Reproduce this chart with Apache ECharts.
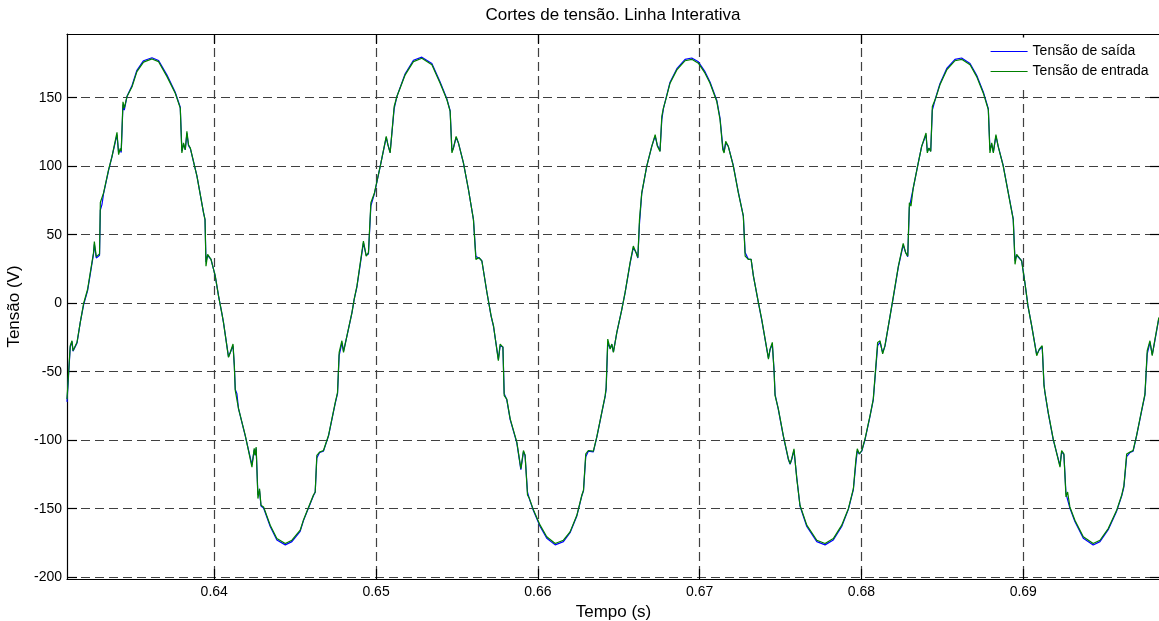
<!DOCTYPE html>
<html>
<head>
<meta charset="utf-8">
<title>Cortes de tensão. Linha Interativa</title>
<script src="https://cdn.jsdelivr.net/npm/echarts@6.0.0/dist/echarts.min.js"></script>
<style>
  html, body { margin: 0; padding: 0; background: #fff; }
  #chart { width: 1159px; height: 621px; }
</style>
</head>
<body>
<div id="chart"></div>
<script>
// tempo (s)
const tempo = [
  0.63090, 0.63110, 0.63121, 0.63127, 0.63152, 0.63172, 0.63193, 0.63217, 0.63254, 0.63259,
  0.63271, 0.63291, 0.63296, 0.63306, 0.63316, 0.63347, 0.63368, 0.63399, 0.63409, 0.63419,
  0.63425, 0.63436, 0.63444, 0.63461, 0.63492, 0.63522, 0.63563, 0.63615, 0.63656, 0.63708,
  0.63759, 0.63790, 0.63800, 0.63810, 0.63821, 0.63831, 0.63841, 0.63852, 0.63893, 0.63934,
  0.63943, 0.63949, 0.63959, 0.63980, 0.64006, 0.64027, 0.64048, 0.64057, 0.64088, 0.64099,
  0.64116, 0.64124, 0.64130, 0.64140, 0.64150, 0.64192, 0.64233, 0.64247, 0.64253, 0.64259,
  0.64270, 0.64280, 0.64289, 0.64305, 0.64346, 0.64387, 0.64439, 0.64480, 0.64531, 0.64552,
  0.64613, 0.64624, 0.64634, 0.64651, 0.64675, 0.64706, 0.64748, 0.64762, 0.64772, 0.64789,
  0.64799, 0.64820, 0.64851, 0.64865, 0.64882, 0.64922, 0.64939, 0.64953, 0.64968, 0.64990,
  0.65026, 0.65063, 0.65073, 0.65087, 0.65112, 0.65129, 0.65180, 0.65231, 0.65283, 0.65345,
  0.65396, 0.65438, 0.65458, 0.65469, 0.65478, 0.65495, 0.65509, 0.65540, 0.65571, 0.65602,
  0.65617, 0.65637, 0.65654, 0.65685, 0.65711, 0.65726, 0.65756, 0.65767, 0.65784, 0.65792,
  0.65808, 0.65829, 0.65870, 0.65895, 0.65911, 0.65921, 0.65936, 0.65948, 0.65973, 0.66014,
  0.66055, 0.66107, 0.66158, 0.66199, 0.66241, 0.66272, 0.66282, 0.66296, 0.66312, 0.66343,
  0.66364, 0.66395, 0.66416, 0.66422, 0.66432, 0.66447, 0.66457, 0.66467, 0.66488, 0.66518,
  0.66539, 0.66570, 0.66590, 0.66607, 0.66618, 0.66628, 0.66642, 0.66673, 0.66704, 0.66725,
  0.66739, 0.66749, 0.66755, 0.66766, 0.66776, 0.66793, 0.66817, 0.66859, 0.66910, 0.66951,
  0.66992, 0.67033, 0.67064, 0.67106, 0.67126, 0.67143, 0.67151, 0.67161, 0.67177, 0.67208,
  0.67239, 0.67270, 0.67281, 0.67301, 0.67318, 0.67332, 0.67363, 0.67384, 0.67415, 0.67425,
  0.67435, 0.67449, 0.67460, 0.67466, 0.67486, 0.67517, 0.67548, 0.67559, 0.67569, 0.67583,
  0.67600, 0.67620, 0.67662, 0.67724, 0.67775, 0.67826, 0.67878, 0.67919, 0.67950, 0.67966,
  0.67974, 0.67987, 0.68002, 0.68022, 0.68053, 0.68073, 0.68100, 0.68115, 0.68131, 0.68145,
  0.68176, 0.68197, 0.68228, 0.68258, 0.68273, 0.68286, 0.68296, 0.68306, 0.68320, 0.68351,
  0.68372, 0.68399, 0.68407, 0.68417, 0.68428, 0.68438, 0.68444, 0.68461, 0.68485, 0.68527,
  0.68578, 0.68619, 0.68671, 0.68712, 0.68753, 0.68784, 0.68794, 0.68805, 0.68815, 0.68831,
  0.68845, 0.68876, 0.68907, 0.68938, 0.68949, 0.68959, 0.68990, 0.69010, 0.69029, 0.69052,
  0.69083, 0.69099, 0.69117, 0.69128, 0.69134, 0.69154, 0.69185, 0.69227, 0.69237, 0.69251,
  0.69264, 0.69274, 0.69288, 0.69319, 0.69371, 0.69432, 0.69474, 0.69525, 0.69577, 0.69608,
  0.69622, 0.69639, 0.69659, 0.69679, 0.69700, 0.69731, 0.69752, 0.69766, 0.69783, 0.69797,
  0.69814, 0.69838
];

// Tensão de saída (V) - azul
const tensaoSaida = [
  -72, -32, -28, -35, -29, -14, -1, 9, 36, 43,
  33, 35, 68, 72, 80, 97, 107, 123, 110, 112,
  110, 145, 141, 151, 159, 170, 177, 179.2, 177.2, 166.5,
  154, 143, 111, 116, 112, 124, 115, 113, 93, 66,
  61, 30, 35, 32, 20, 5, -8, -14, -39, -36,
  -31, -45, -63, -66, -77, -97, -118, -107, -111, -106,
  -140, -137, -148, -149.5, -163, -172.8, -176.4, -174, -166.5, -158.5,
  -140.5, -138, -113, -109, -108, -97, -73, -66, -38, -29,
  -35, -24, -7, 3, 12, 44, 35, 36, 71, 80,
  100, 121, 116, 110, 142, 151, 167.5, 177.3, 179.6, 175,
  161.5, 149, 140.5, 111, 113, 121, 117, 102.5, 83, 61,
  34, 33, 31, 8, -9.5, -17, -41, -31, -32, -66,
  -70.5, -85, -102, -121.5, -108.5, -111, -138, -143, -151.5, -163,
  -171.5, -176.4, -174, -167.5, -155.3, -140.5, -137, -112, -108, -108.5,
  -98, -80, -68, -63, -29, -33, -30, -35.5, -21.5, -5,
  7.5, 29, 40.5, 37, 33, 58, 80, 100, 114.5, 122,
  115, 113, 111, 134, 142, 150, 161.3, 171.2, 178, 179,
  176.2, 169, 161.5, 148, 135, 114, 110.5, 117, 114.5, 100.5,
  81, 63.5, 37, 32, 32, 20, 0.5, -12.5, -33.5, -40,
  -34, -30, -49, -66.5, -77.5, -97, -114, -117.5, -114, -107.5,
  -127, -148, -163, -174, -176.4, -172.8, -163, -150.5, -136, -116,
  -108, -110, -108, -99.5, -82.5, -70.5, -31, -28.5, -36, -31.5,
  -10, 4.5, 26.5, 42.5, 37, 34, 70, 70.5, 84, 102.5,
  114.5, 123, 111, 113, 111, 141, 142, 151, 160.2, 171.3,
  178, 179, 175, 166.4, 154.2, 142, 112, 116, 110.5, 122,
  114.5, 100.5, 81, 61.5, 31, 35, 31, 15, -2, -16.5,
  -37.5, -34, -32, -59, -65.5, -80, -99.5, -118.5, -108.5, -110.5,
  -139, -139, -149.5, -159.3, -171.5, -176.5, -174, -165.3, -151.8, -140.8,
  -134, -112, -109, -108, -97, -79, -67, -37, -28.5, -37.5,
  -27, -11
];

// Tensão de entrada (V) - verde
const tensaoEntrada = [
  -70, -31, -27.4, -34.7, -28.5, -14, 0, 10, 37, 45,
  34, 36, 73.5, 74.5, 80.5, 97.5, 107, 124.7, 108.4, 113,
  111, 147, 142.4, 150.9, 158, 169, 176, 178.3, 176.3, 165.4,
  153.3, 142.4, 109.7, 117, 112, 125.4, 115.7, 113.3, 92.7, 66,
  61, 27, 35.7, 32, 20, 5, -8, -14, -39.5, -36,
  -29.8, -45.6, -63.8, -65, -77, -96.6, -119.6, -106, -111, -105,
  -142.6, -135.4, -147.5, -148.7, -162, -171.8, -175.4, -173, -165.7, -158,
  -140, -137.8, -111, -108.7, -107.5, -96.6, -72.3, -65, -35.9, -27.4,
  -35.9, -23.8, -6.8, 3, 12.6, 45.4, 34.4, 36.9, 73.3, 80.5,
  100, 121.8, 115.7, 109.7, 143.6, 150.9, 166.7, 176.3, 178.8, 174,
  160.6, 148.5, 140, 109.7, 113.3, 121.8, 117, 102.4, 83, 61,
  32, 33.3, 30.8, 8, -9.2, -16.5, -42, -29.8, -32, -67.5,
  -70, -84.4, -101.4, -120.8, -107.5, -111, -140, -142.6, -151, -162,
  -170.5, -175.4, -173, -166.9, -154.8, -140, -136.5, -110, -107.5, -108,
  -97.8, -79.6, -67.5, -61.4, -26.2, -33.5, -29.8, -35.9, -21.3, -5,
  7.8, 29.6, 41.7, 36.9, 33.3, 61, 80.5, 100, 114.5, 123,
  114.5, 113.3, 110.8, 136.3, 142.4, 149.7, 160.6, 170.3, 177, 178,
  175.2, 167.9, 160.6, 147.2, 133.9, 112, 109.7, 118.2, 114.5, 100,
  80.5, 63.5, 34.4, 32, 32, 19.9, 0.5, -12, -33.5, -40.8,
  -33.5, -28.6, -50.4, -67.5, -77, -96.6, -113.5, -117.2, -113.5, -106.3,
  -128, -147.5, -162, -173, -175.4, -171.8, -162, -150, -135.4, -113.5,
  -106.3, -110, -107.5, -99, -82, -70, -28.6, -27.4, -37, -31,
  -9.8, 5, 27.1, 43.7, 36.9, 34.4, 73.3, 70.9, 84.2, 102.4,
  114.5, 124.2, 109.7, 113.3, 110.8, 143.6, 142.4, 150.4, 159.4, 170.3,
  177, 178, 174, 165.4, 153.3, 141.2, 109.7, 117, 109.7, 123,
  114.5, 100, 80.5, 61, 28.4, 35.7, 30.8, 15, -2, -16.5,
  -38.3, -33.5, -31, -60.2, -65, -79.6, -99, -119.6, -107.5, -110,
  -141.4, -137.8, -148.7, -158.4, -170.5, -175.4, -173, -164.5, -151.2, -140.2,
  -133, -110, -108.7, -107.5, -96.6, -78.4, -66.2, -34.7, -27.4, -38.3,
  -26.2, -10.4
];

const xTicks = [0.64, 0.65, 0.66, 0.67, 0.68, 0.69];
const yTicks = [-200, -150, -100, -50, 0, 50, 100, 150];

const font = 'Liberation Sans, Arial, Helvetica, sans-serif';
const blue = '#0000ff';
const green = '#008000';
const xMin = 0.6309;
const xMax = 0.69845;
const yMin = -201.3;
const yMax = 196.5;

const gridLine = {
  show: true,
  lineStyle: { color: '#404040', width: 1.2, type: [9, 5] }
};
const boxLine = { show: true, onZero: false, lineStyle: { color: '#000', width: 1.2 } };
const tickStyle = { color: '#000', width: 1.2 };

const chart = echarts.init(document.getElementById('chart'));

chart.setOption({
  animation: false,
  textStyle: { fontFamily: font },
  title: {
    text: 'Cortes de tensão. Linha Interativa',
    left: 613,
    textAlign: 'center',
    top: 7,
    padding: 0,
    textStyle: { fontFamily: font, fontSize: 17, fontWeight: 'normal', color: '#000' }
  },
  legend: {
    orient: 'vertical',
    left: 985,
    top: 37.5,
    padding: [7, 60, 9, 5],
    itemWidth: 37,
    itemHeight: 14,
    itemGap: 6,
    backgroundColor: '#fff',
    textStyle: { fontFamily: font, fontSize: 14, color: '#000' },
    data: [
      { name: 'Tensão de saída', itemStyle: { opacity: 0 }, lineStyle: { color: blue, width: 1.2, opacity: 1 } },
      { name: 'Tensão de entrada', itemStyle: { opacity: 0 }, lineStyle: { color: green, width: 1.2, opacity: 1 } }
    ]
  },
  grid: { left: 67, right: -1, top: 34, bottom: 42, outerBoundsMode: 'none' },
  xAxis: [
    {
      type: 'value',
      position: 'bottom',
      min: xMin,
      max: xMax,
      name: 'Tempo (s)',
      nameLocation: 'middle',
      nameGap: 20,
      nameTextStyle: { fontFamily: font, fontSize: 17, color: '#000' },
      axisLine: boxLine,
      axisTick: { inside: true, length: 10, customValues: xTicks, lineStyle: tickStyle },
      axisLabel: {
        customValues: xTicks,
        margin: 6,
        fontSize: 14,
        color: '#000',
        formatter: v => v.toFixed(2)
      },
      splitLine: gridLine
    },
    {
      type: 'value',
      position: 'top',
      min: xMin,
      max: xMax,
      axisLine: boxLine,
      axisTick: { inside: true, length: 10, customValues: xTicks, lineStyle: tickStyle },
      axisLabel: { show: false },
      splitLine: { show: false }
    }
  ],
  yAxis: [
    {
      type: 'value',
      position: 'left',
      min: yMin,
      max: yMax,
      name: 'Tensão (V)',
      nameLocation: 'middle',
      nameGap: 36,
      nameTextStyle: { fontFamily: font, fontSize: 17, color: '#000' },
      axisLine: boxLine,
      axisTick: { inside: true, length: 10, customValues: yTicks, lineStyle: tickStyle },
      axisLabel: { customValues: yTicks, margin: 5, fontSize: 14, color: '#000' },
      splitLine: gridLine
    },
    {
      type: 'value',
      position: 'right',
      min: yMin,
      max: yMax,
      axisLine: boxLine,
      axisTick: { inside: true, length: 10, customValues: yTicks, lineStyle: tickStyle },
      axisLabel: { show: false },
      splitLine: { show: false }
    }
  ],
  series: [
    {
      name: 'Tensão de saída',
      type: 'line',
      xAxisIndex: 0,
      yAxisIndex: 0,
      symbol: 'none',
      color: blue,
      lineStyle: { width: 1.2, color: blue },
      data: tempo.map((t, i) => [t, tensaoSaida[i]])
    },
    {
      name: 'Tensão de entrada',
      type: 'line',
      xAxisIndex: 0,
      yAxisIndex: 0,
      symbol: 'none',
      color: green,
      lineStyle: { width: 1.2, color: green },
      data: tempo.map((t, i) => [t, tensaoEntrada[i]])
    }
  ]
});

window.addEventListener('resize', () => chart.resize());
</script>
</body>
</html>
